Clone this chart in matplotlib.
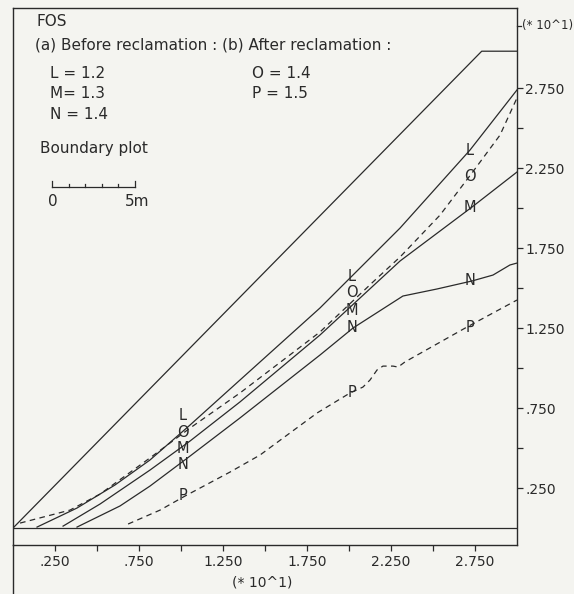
import matplotlib
matplotlib.use("Agg")
import matplotlib.pyplot as plt
from matplotlib.lines import Line2D

############################################
# data (units of 10 m)
############################################

slope_x = [0.0, 2.79, 3.0]
slope_y = [0.0, 2.98, 2.98]

ground_x = [0.0, 3.0]
ground_y = [0.0, 0.0]

# before reclamation (solid)
L_x = [0.143, 0.381, 0.607, 0.815, 1.054, 1.351, 1.827, 2.304, 2.720, 3.0]
L_y = [0.006, 0.125, 0.269, 0.425, 0.644, 0.925, 1.375, 1.875, 2.362, 2.738]

M_x = [0.298, 0.518, 0.815, 1.054, 1.351, 1.827, 2.304, 2.732, 3.0]
M_y = [0.012, 0.150, 0.362, 0.544, 0.788, 1.206, 1.669, 2.006, 2.225]

N_x = [0.381, 0.637, 0.815, 1.054, 1.351, 1.827, 2.024, 2.321, 2.524,
       2.732, 2.857, 2.958, 3.0]
N_y = [0.006, 0.138, 0.262, 0.450, 0.688, 1.081, 1.250, 1.450, 1.494,
       1.544, 1.581, 1.644, 1.656]

# after reclamation (dashed)
O_x = [0.042, 0.339, 0.518, 0.815, 1.054, 1.351, 1.827, 2.143, 2.304,
       2.542, 2.732, 2.899, 3.0]
O_y = [0.031, 0.112, 0.212, 0.438, 0.625, 0.844, 1.225, 1.538, 1.694,
       1.956, 2.219, 2.456, 2.688]

P_x = [0.685, 0.875, 1.024, 1.292, 1.470, 1.810, 2.006, 2.083, 2.125,
       2.167, 2.202, 2.262, 2.292, 2.333, 2.702, 3.0]
P_y = [0.025, 0.112, 0.200, 0.350, 0.456, 0.719, 0.844, 0.881, 0.925,
       0.988, 1.012, 1.012, 1.006, 1.038, 1.256, 1.425]

tick_vals = [0.25, 0.75, 1.25, 1.75, 2.25, 2.75]
minor_vals = [0.5, 1.0, 1.5, 2.0, 2.5]
tick_labels = [".250", ".750", "1.250", "1.750", "2.250", "2.750"]

# letters written on the curves, three groups along x
tag_x = [1.012, 2.018, 2.72]
tags = {
    "L": [0.706, 1.569, 2.362],
    "O": [0.600, 1.475, 2.200],
    "M": [0.500, 1.362, 2.006],
    "N": [0.394, 1.256, 1.544],
    "P": [0.206, 0.850, 1.256],
}

############################################
# figure
############################################

W, H = 574, 594
ink = "#2a2a2a"
paper = "#f4f4f0"

def fx(px):
    return px / W

def fy(py):
    return 1 - py / H

fig = plt.figure(figsize=(W / 100, H / 100), dpi=100, facecolor=paper)
ax = fig.add_axes([fx(13), fy(545), fx(517) - fx(13), fy(8) - fy(545)])
ax.set_facecolor(paper)
ax.set_xlim(0, 3.0)
ax.set_ylim(-0.106, 3.25)

lw = 0.9
ax.plot(slope_x, slope_y, color=ink, lw=lw)
ax.plot(ground_x, ground_y, color=ink, lw=lw)
ax.plot(L_x, L_y, color=ink, lw=lw)
ax.plot(M_x, M_y, color=ink, lw=lw)
ax.plot(N_x, N_y, color=ink, lw=lw)
ax.plot(O_x, O_y, color=ink, lw=lw, linestyle=(0, (4.5, 3.5)))
ax.plot(P_x, P_y, color=ink, lw=lw, linestyle=(0, (4.5, 3.5)))

for name, ys in tags.items():
    for x, y in zip(tag_x, ys):
        ax.text(x, y, name, fontsize=10.5, color=ink, ha="center", va="center")

# axes look
for s in ax.spines.values():
    s.set_color(ink)
    s.set_linewidth(1.0)

ax.yaxis.tick_right()
ax.set_yticks(tick_vals)
ax.set_yticklabels(tick_labels)
ax.set_yticks(minor_vals, minor=True)
ax.set_xticks(tick_vals)
ax.set_xticklabels(tick_labels)
ax.set_xticks(minor_vals, minor=True)
ax.tick_params(axis="both", which="both", direction="out", length=4,
               width=0.9, color=ink, labelcolor=ink, labelsize=10, pad=3)
ax.tick_params(axis="y", pad=2)

# multiplier labels
ax.text(1.01, 3.14, "(* 10^1)", transform=ax.get_yaxis_transform(),
        fontsize=8.5, color=ink, va="center", ha="left")
ax.add_line(Line2D([1.0, 1.008], [3.14, 3.14], transform=ax.get_yaxis_transform(),
                   color=ink, lw=0.9, clip_on=False))
fig.text(fx(262), fy(582), "(* 10^1)", fontsize=10, color=ink,
         ha="center", va="center")

# left frame line running down to the bottom edge
fig.add_artist(Line2D([fx(13), fx(13)], [0, fy(545)], color=ink, lw=1.0))

############################################
# legend text block
############################################

fs = 11
fig.text(fx(37), fy(22), "FOS", fontsize=fs, color=ink, va="center")
fig.text(fx(35), fy(45), "(a) Before reclamation : (b) After reclamation :",
         fontsize=fs, color=ink, va="center")
fig.text(fx(50), fy(73), "L = 1.2", fontsize=fs, color=ink, va="center")
fig.text(fx(50), fy(93), "M= 1.3", fontsize=fs, color=ink, va="center")
fig.text(fx(50), fy(115), "N = 1.4", fontsize=fs, color=ink, va="center")
fig.text(fx(252), fy(73), "O = 1.4", fontsize=fs, color=ink, va="center")
fig.text(fx(252), fy(93), "P = 1.5", fontsize=fs, color=ink, va="center")
fig.text(fx(40), fy(148), "Boundary plot", fontsize=fs, color=ink, va="center")

# 5 m scale bar
bar_y = fy(187)
fig.add_artist(Line2D([fx(52), fx(135)], [bar_y, bar_y], color=ink, lw=0.9))
for i in range(6):
    px = 52 + i * (135 - 52) / 5
    top = fy(181) if i in (0, 5) else fy(184)
    fig.add_artist(Line2D([fx(px), fx(px)], [bar_y, top], color=ink, lw=0.9))
fig.text(fx(53), fy(201), "0", fontsize=fs, color=ink, ha="center", va="center")
fig.text(fx(137), fy(201), "5m", fontsize=fs, color=ink, ha="center", va="center")

fig.savefig("out.png", dpi=100, facecolor=paper)
